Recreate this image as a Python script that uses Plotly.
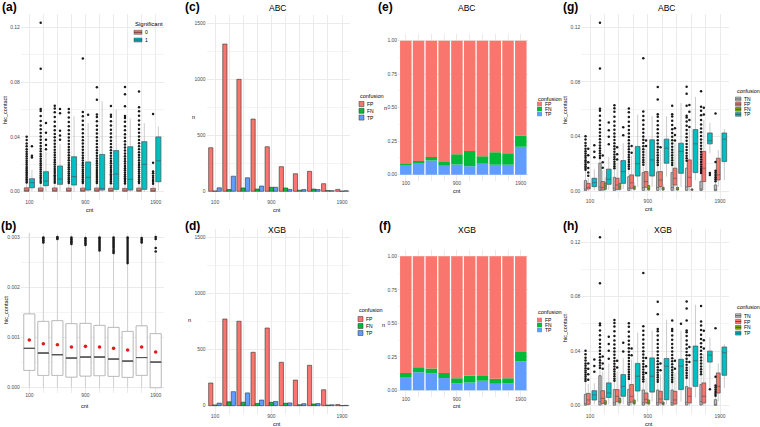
import plotly.graph_objects as go

W, H = 760, 427
FONT = "Liberation Sans, Arial, sans-serif"

# ============================================
# DATA
# ============================================
cnt = ["100", "300", "500", "700", "900", "1100", "1300", "1500", "1700", "1900"]
cnt_ticks = ["100", "", "", "", "900", "", "", "", "", "1900"]

# (a) hic_contact by Significant
sig0_q1 = [0.0003, 0.0003, 0.0003, 0.0003, 0.0003, 0.0003, 0.0003, 0.0003, 0.0003, 0.0002]
sig0_med = [0.0009, 0.0008, 0.0008, 0.0007, 0.0007, 0.0007, 0.0007, 0.0006, 0.0007, 0.0006]
sig0_q3 = [0.0028, 0.0027, 0.0027, 0.0026, 0.0026, 0.0026, 0.0025, 0.0024, 0.0026, 0.0024]
sig0_lo = [0.0, 0.0, 0.0, 0.0, 0.0, 0.0, 0.0, 0.0, 0.0, 0.0]
sig0_hi = [0.0065, 0.0062, 0.0062, 0.0060, 0.0060, 0.0059, 0.0058, 0.0055, 0.0060, 0.0055]
sig0_out = [
    [0.0068, 0.0079, 0.0091, 0.0103, 0.0117, 0.0129, 0.0142, 0.0155, 0.0168, 0.0181, 0.0196,
     0.0212, 0.0226, 0.0243, 0.0258, 0.0275, 0.0292, 0.031, 0.0331, 0.0352, 0.0378, 0.0402],
    [0.0066, 0.0078, 0.0092, 0.0105, 0.0119, 0.0133, 0.0148, 0.0162, 0.0177, 0.0193, 0.0208,
     0.0224, 0.0241, 0.0258, 0.0276, 0.0295, 0.0314, 0.0334, 0.0356, 0.0379, 0.0403, 0.0428,
     0.0455, 0.0484, 0.0516, 0.0552, 0.0589, 0.0603, 0.0898, 0.1234],
    [0.0066, 0.0079, 0.0093, 0.0107, 0.0121, 0.0136, 0.0151, 0.0166, 0.0182, 0.0198, 0.0215,
     0.0232, 0.025, 0.0268, 0.0287, 0.0307, 0.0328, 0.035, 0.0373, 0.0397, 0.0422, 0.0449,
     0.0478, 0.051, 0.0545, 0.058, 0.0607, 0.0628],
    [0.0064, 0.0077, 0.009, 0.0104, 0.0118, 0.0133, 0.0148, 0.0163, 0.0179, 0.0195, 0.0212,
     0.0229, 0.0247, 0.0266, 0.0286, 0.0306, 0.0327, 0.0349, 0.0372, 0.0396, 0.0421, 0.0448,
     0.0477, 0.0508, 0.0542, 0.0578, 0.0604],
    [0.0064, 0.0076, 0.0089, 0.0103, 0.0117, 0.0131, 0.0146, 0.0161, 0.0177, 0.0193, 0.021,
     0.0228, 0.0246, 0.0265, 0.0285, 0.0306, 0.0328, 0.0351, 0.0375, 0.04, 0.0427, 0.0455,
     0.0486, 0.0518, 0.055, 0.0582, 0.0973],
    [0.0063, 0.0075, 0.0088, 0.0101, 0.0115, 0.0129, 0.0144, 0.0159, 0.0175, 0.0191, 0.0208,
     0.0225, 0.0243, 0.0262, 0.0282, 0.0303, 0.0325, 0.0348, 0.0372, 0.0397, 0.0424, 0.0452,
     0.0482, 0.0514, 0.0545, 0.0563, 0.0671, 0.0762],
    [0.0062, 0.0074, 0.0087, 0.01, 0.0114, 0.0128, 0.0143, 0.0158, 0.0174, 0.019, 0.0207,
     0.0225, 0.0243, 0.0262, 0.0282, 0.0303, 0.0325, 0.0348, 0.0372, 0.0398, 0.0425, 0.0453,
     0.0483, 0.0515, 0.0547, 0.0562, 0.0625],
    [0.006, 0.0072, 0.0085, 0.0098, 0.0112, 0.0126, 0.0141, 0.0156, 0.0172, 0.0188, 0.0205,
     0.0222, 0.024, 0.0259, 0.0279, 0.03, 0.0322, 0.0345, 0.0369, 0.0394, 0.042, 0.0448,
     0.0478, 0.051, 0.0538, 0.0552, 0.0624, 0.0712, 0.0764],
    [0.0063, 0.0076, 0.0089, 0.0103, 0.0117, 0.0132, 0.0147, 0.0162, 0.0178, 0.0195, 0.0212,
     0.023, 0.0249, 0.0268, 0.0288, 0.0309, 0.0331, 0.0354, 0.0378, 0.0403, 0.043, 0.0458,
     0.0488, 0.052, 0.0555, 0.0588, 0.0617, 0.0731],
    [0.0058, 0.0072, 0.0086, 0.0101, 0.0117, 0.0134, 0.0148, 0.0212, 0.0568],
]
sig1_q1 = [0.0029, 0.0044, 0.0054, 0.0049, 0.0012, 0.0012, 0.0017, 0.0012, 0.0017, 0.0073]
sig1_med = [0.0066, 0.0078, 0.0092, 0.0110, 0.0105, 0.0024, 0.0129, 0.0090, 0.0200, 0.0226]
sig1_q3 = [0.0095, 0.0146, 0.0187, 0.0255, 0.0217, 0.0272, 0.0300, 0.0328, 0.0365, 0.0400]
sig1_lo = [0.0005, 0.0004, 0.0006, 0.0, 0.0, 0.0, 0.0, 0.0, 0.0, 0.0010]
sig1_hi = [0.0160, 0.0290, 0.0350, 0.0550, 0.0500, 0.0660, 0.0600, 0.0535, 0.0500, 0.0474]
sig1_out = [[0.025, 0.0262, 0.0331], [0.031, 0.034, 0.038, 0.043, 0.0502],
            [0.038, 0.041, 0.0445, 0.0572, 0.0603], [], [0.0562], [], [], [], [], []]

# (b) hic_contact, all pairs
b_q1 = [0.000345, 0.000245, 0.000245, 0.000212, 0.000232, 0.00024, 0.000226, 0.000206, 0.000245, 0.0]
b_med = [0.000783, 0.00069, 0.000657, 0.00059, 0.00061, 0.00061, 0.00057, 0.00053, 0.0006, 0.00051]
b_q3 = [0.001467, 0.00132, 0.001334, 0.001274, 0.00128, 0.00124, 0.0012, 0.00112, 0.00123, 0.001075]
b_lo = [0.0, 0.0, 0.0, 0.0, 0.0, 0.0, 0.0, 0.0, 0.0, 0.0]
b_hi = [0.00315, 0.00288, 0.00295, 0.00285, 0.00283, 0.00272, 0.00267, 0.00247, 0.00288, 0.00266]
b_mean = [0.000949, 0.000876, 0.000856, 0.00081, 0.000823, 0.00081, 0.000783, 0.00075, 0.00081, 0.00071]
b_out = [
    [],
    [0.00289, 0.00292, 0.00294, 0.00297, 0.00299],
    [0.00296, 0.00298, 0.003],
    [0.00286, 0.00289, 0.00291, 0.00294, 0.00296, 0.00299],
    [0.00284, 0.00287, 0.0029, 0.00293, 0.00296, 0.00298],
    [0.00273, 0.00276, 0.00279, 0.00282, 0.00285, 0.00288, 0.00291, 0.00294, 0.00297, 0.00299],
    [0.00268, 0.00271, 0.00274, 0.00278, 0.00281, 0.00284, 0.00287, 0.0029, 0.00293, 0.00296, 0.00299],
    [0.00248, 0.00252, 0.00256, 0.0026, 0.00264, 0.00268, 0.00272, 0.00276, 0.0028, 0.00284,
     0.00288, 0.00292, 0.00296, 0.00299],
    [0.00289, 0.00292, 0.00295, 0.00298],
    [0.00271, 0.00278, 0.00296, 0.003],
]

# (c)/(e) ABC confusion counts, (d)/(f) XGB confusion counts
abc_fp = [389, 1315, 1000, 645, 398, 220, 157, 178, 68, 17]
abc_fn = [3, 15, 30, 20, 36, 30, 10, 20, 7, 2]
abc_tp = [31, 135, 121, 47, 36, 17, 15, 16, 6, 5]
xgb_fp = [202, 771, 751, 475, 691, 386, 228, 359, 142, 10]
xgb_fn = [7, 35, 31, 20, 30, 22, 9, 15, 6, 1]
xgb_tp = [23, 125, 114, 50, 38, 25, 18, 19, 8, 3]

# (g) ABC hic_contact by confusion
g_tn_q1 = [0.0004, 0.0005, 0.0004, 0.0004, 0.0005, 0.0005, 0.0005, 0.0005, 0.0004, 0.0003]
g_tn_med = [0.0015, 0.003, 0.002, 0.002, 0.0025, 0.0025, 0.0025, 0.003, 0.0015, 0.001]
g_tn_q3 = [0.0076, 0.0204, 0.010, 0.0105, 0.0135, 0.014, 0.0135, 0.0167, 0.007, 0.0044]
g_tn_lo = [0.0, 0.0, 0.0, 0.0, 0.0, 0.0, 0.0, 0.0, 0.0, 0.0]
g_tn_hi = [0.015, 0.024, 0.016, 0.016, 0.018, 0.019, 0.018, 0.021, 0.012, 0.007]
g_fp_q1 = [0.0015, 0.0007, 0.0012, 0.002, 0.0027, 0.0032, 0.0044, 0.0032, 0.0069, 0.0081]
g_fp_med = [0.0027, 0.0025, 0.0044, 0.006, 0.0069, 0.0081, 0.0093, 0.010, 0.0167, 0.0118]
g_fp_q3 = [0.0056, 0.0069, 0.0093, 0.0118, 0.0142, 0.0142, 0.0167, 0.0228, 0.029, 0.024]
g_fp_lo = [0.0, 0.0, 0.0, 0.0, 0.0, 0.0, 0.0, 0.0, 0.0007, 0.003]
g_fp_hi = [0.0095, 0.015, 0.021, 0.026, 0.031, 0.030, 0.035, 0.045, 0.052, 0.030]
g_fp_out = [[0.0112, 0.0135, 0.0168, 0.021, 0.0262, 0.031], [0.017, 0.021, 0.026], [0.023, 0.027, 0.032],
            [0.028, 0.033], [0.033, 0.037], [0.032], [0.037, 0.041, 0.046], [0.047, 0.052, 0.058, 0.063],
            [0.056, 0.061], []]
g_fn_q1 = [None, 0.0012, 0.0012, 0.0012, 0.0007, 0.0007, 0.0007, 0.0005, None, None]
g_fn_med = [None, 0.0035, 0.003, 0.0022, 0.0018, 0.0015, 0.0015, 0.001, None, None]
g_fn_q3 = [None, 0.006, 0.0056, 0.0037, 0.004, 0.0027, 0.0027, 0.0015, None, None]
g_fn_lo = [None, 0.0, 0.0, 0.0, 0.0, 0.0, 0.0, 0.0, None, None]
g_fn_hi = [None, 0.01, 0.01, 0.0065, 0.0075, 0.005, 0.005, 0.0025, None, None]
g_tp_q1 = [0.0032, 0.0049, 0.0056, 0.011, 0.011, 0.0204, 0.013, 0.0135, 0.0346, 0.0216]
g_tp_med = [0.0061, 0.0086, 0.0142, 0.020, 0.0228, 0.0314, 0.029, 0.0346, 0.0368, 0.038]
g_tp_q3 = [0.0093, 0.016, 0.0223, 0.0326, 0.0375, 0.038, 0.035, 0.045, 0.0425, 0.0425]
g_tp_lo = [0.0005, 0.0008, 0.0015, 0.003, 0.003, 0.0105, 0.003, 0.008, 0.0277, 0.008]
g_tp_hi = [0.016, 0.025, 0.035, 0.056, 0.055, 0.0547, 0.0645, 0.069, 0.050, 0.0454]
g_tp_out = [[0.0248, 0.0287, 0.0336], [0.0342, 0.0398, 0.0446, 0.0502], [0.0408, 0.0468],
            [], [], [], [], [], [0.0132, 0.0118], []]

# (h) XGB hic_contact by confusion
h_tn_q1 = [0.0004, 0.0005, 0.0004, 0.0004, 0.0004, 0.0004, 0.0004, 0.0005, 0.0005, 0.0003]
h_tn_med = [0.0015, 0.003, 0.0022, 0.0022, 0.0022, 0.0022, 0.0022, 0.0025, 0.003, 0.001]
h_tn_q3 = [0.0083, 0.022, 0.0118, 0.012, 0.0115, 0.0115, 0.0115, 0.014, 0.0155, 0.0044]
h_tn_lo = [0.0, 0.0, 0.0, 0.0, 0.0, 0.0, 0.0, 0.0, 0.0, 0.0]
h_tn_hi = [0.017, 0.026, 0.018, 0.018, 0.017, 0.017, 0.017, 0.02, 0.022, 0.007]
h_fp_q1 = [0.001, 0.0017, 0.003, 0.0025, 0.002, 0.002, 0.0012, 0.002, 0.002, 0.0093]
h_fp_med = [0.0042, 0.0054, 0.0069, 0.0069, 0.0047, 0.0049, 0.0042, 0.0069, 0.0069, 0.0142]
h_fp_q3 = [0.009, 0.011, 0.0118, 0.0155, 0.0093, 0.0105, 0.0105, 0.013, 0.0167, 0.024]
h_fp_lo = [0.0, 0.0, 0.0, 0.0, 0.0, 0.0, 0.0, 0.0, 0.0, 0.0032]
h_fp_hi = [0.016, 0.025, 0.025, 0.034, 0.02, 0.023, 0.024, 0.029, 0.038, 0.031]
h_fp_out = [[0.019, 0.023, 0.027, 0.031], [0.027, 0.031, 0.036], [0.028, 0.033], [0.037, 0.042],
            [0.024, 0.029, 0.035], [0.026, 0.031], [0.027, 0.033], [0.032, 0.037, 0.043],
            [0.042, 0.048, 0.055], []]
h_fn_q1 = [None, 0.001, 0.002, 0.0012, 0.0012, 0.0007, None, None, None, None]
h_fn_med = [None, 0.002, 0.0035, 0.0025, 0.0025, 0.0015, None, None, None, None]
h_fn_q3 = [None, 0.0037, 0.0056, 0.0042, 0.0042, 0.0027, None, None, None, None]
h_fn_lo = [None, 0.0, 0.0, 0.0, 0.0, 0.0, None, None, None, None]
h_fn_hi = [None, 0.0075, 0.01, 0.0085, 0.008, 0.005, None, None, None, None]
h_tp_q1 = [0.0042, 0.006, 0.0069, 0.0108, 0.010, 0.0044, 0.0118, 0.0142, 0.032, 0.0223]
h_tp_med = [0.0079, 0.0093, 0.0142, 0.0216, 0.0216, 0.029, 0.029, 0.033, 0.037, 0.0388]
h_tp_q3 = [0.011, 0.0167, 0.0228, 0.031, 0.035, 0.0346, 0.034, 0.0437, 0.040, 0.043]
h_tp_lo = [0.001, 0.001, 0.001, 0.003, 0.003, 0.001, 0.003, 0.006, 0.013, 0.013]
h_tp_hi = [0.0165, 0.031, 0.035, 0.0535, 0.055, 0.063, 0.055, 0.074, 0.050, 0.045]
h_tp_out = [[0.0248, 0.0291, 0.0338], [0.0345, 0.0402, 0.0452, 0.0505], [0.0398, 0.0462],
            [], [], [], [0.06], [], [0.012], []]

# ============================================
# STYLE
# ============================================
RED, TEAL, GREEN, BLUE, OLIVE, GREY = "#F8766D", "#00BFC4", "#00BA38", "#619CFF", "#7CAE00", "#BDBDBD"
EDGE, WHISK = "#4d4d4d", "#b5b5b5"
GRID, GRID_MINOR = "#ebebeb", "#f4f4f4"
TICK = "#4d4d4d"

idx = list(range(len(cnt)))


def px(x):
    return x / W


def py(y):
    return 1 - y / H


def dom_x(p_first, p_last, pad=0.6):
    s = (p_last - p_first) / (len(cnt) - 1)
    return [px(p_first - pad * s), px(p_last + pad * s)]


def dom_y(v0, p0, v1, p1, lo, hi):
    s = (p0 - p1) / (v1 - v0)
    top = p1 - (hi - v1) * s
    bot = p0 + (v0 - lo) * s
    return [py(bot), py(top)]


fig = go.Figure()


def add_box(ax, offset, width, q1, med, q3, lo, hi, fill, edge=EDGE, whisk=WHISK,
            outs=None, mid=None, pt=2.5):
    keep = [i for i in idx if q1[i] is not None]
    pos = [i + offset for i in keep]

    def pick(arr):
        return [arr[i] for i in keep]

    common = dict(x=pos, xaxis="x" + ax, yaxis="y" + ax, width=width, whiskerwidth=0,
                  boxpoints=False, orientation="v", showlegend=False, hoverinfo="skip")
    # whiskers
    fig.add_trace(go.Box(q1=pick(q1), median=pick(med), q3=pick(q3), lowerfence=pick(lo),
                         upperfence=pick(hi), fillcolor="rgba(0,0,0,0)",
                         line=dict(color=whisk, width=0.7), **common))
    # box body
    fig.add_trace(go.Box(q1=pick(q1), median=pick(med), q3=pick(q3), lowerfence=pick(q1),
                         upperfence=pick(q3), fillcolor=fill,
                         line=dict(color=edge, width=0.6), **common))
    if mid:
        fig.add_trace(go.Box(q1=pick(med), median=pick(med), q3=pick(med), lowerfence=pick(med),
                             upperfence=pick(med), fillcolor="rgba(0,0,0,0)",
                             line=dict(color=mid, width=0.9), **common))
    if outs:
        ox, oy = [], []
        for i in keep:
            for v in outs[i]:
                if v > hi[i] or v < lo[i]:
                    ox.append(i + offset)
                    oy.append(v)
        fig.add_trace(go.Scatter(x=ox, y=oy, mode="markers", xaxis="x" + ax, yaxis="y" + ax,
                                 marker=dict(size=pt, color="#1a1a1a", line=dict(width=0)),
                                 showlegend=False, hoverinfo="skip"))


# (a)
add_box("", -0.1875, 0.33, sig0_q1, sig0_med, sig0_q3, sig0_lo, sig0_hi, RED, outs=sig0_out)
add_box("", 0.1875, 0.36, sig1_q1, sig1_med, sig1_q3, sig1_lo, sig1_hi, TEAL, outs=sig1_out)

# (b)
add_box("2", 0, 0.78, b_q1, b_med, b_q3, b_lo, b_hi, "white", edge="#a0a0a0", whisk="#c4c4c4",
        outs=b_out, mid="#555555", pt=2.6)
fig.add_trace(go.Scatter(x=idx, y=b_mean, mode="markers", xaxis="x2", yaxis="y2",
                         marker=dict(size=3.6, color="#E41A1C"), showlegend=False, hoverinfo="skip"))

# (c), (d) grouped counts; (e), (f) filled proportions
for ax_c, ax_e, fp, fn, tp in [("3", "5", abc_fp, abc_fn, abc_tp), ("4", "6", xgb_fp, xgb_fn, xgb_tp)]:
    for vals, col in [(fp, RED), (fn, GREEN), (tp, BLUE)]:
        fig.add_trace(go.Bar(x=idx, y=vals, xaxis="x" + ax_c, yaxis="y" + ax_c,
                             marker=dict(color=col, line=dict(color="#333333", width=0.6)),
                             showlegend=False, hoverinfo="skip"))
    tot = [a + b + c for a, b, c in zip(fp, fn, tp)]
    tp_s = [t / s for t, s in zip(tp, tot)]
    fn_s = [f / s for f, s in zip(fn, tot)]
    fp_s = [f / s for f, s in zip(fp, tot)]
    base = [0.0] * len(cnt)
    for vals, col in [(tp_s, BLUE), (fn_s, GREEN), (fp_s, RED)]:
        fig.add_trace(go.Bar(x=idx, y=vals, base=base, offsetgroup="fill" + ax_e,
                             xaxis="x" + ax_e, yaxis="y" + ax_e,
                             marker=dict(color=col, line=dict(width=0)),
                             showlegend=False, hoverinfo="skip"))
        base = [b + v for b, v in zip(base, vals)]

# (g), (h): TN, FP, FN, TP boxes dodged within each cnt group
offs4 = [-0.31, -0.12, 0.06, 0.3]
wid4 = [0.16, 0.26, 0.14, 0.32]
for ax, tn, fp, fn, tp, fpo, tpo in [
    ("7", (g_tn_q1, g_tn_med, g_tn_q3, g_tn_lo, g_tn_hi), (g_fp_q1, g_fp_med, g_fp_q3, g_fp_lo, g_fp_hi),
     (g_fn_q1, g_fn_med, g_fn_q3, g_fn_lo, g_fn_hi), (g_tp_q1, g_tp_med, g_tp_q3, g_tp_lo, g_tp_hi),
     g_fp_out, g_tp_out),
    ("8", (h_tn_q1, h_tn_med, h_tn_q3, h_tn_lo, h_tn_hi), (h_fp_q1, h_fp_med, h_fp_q3, h_fp_lo, h_fp_hi),
     (h_fn_q1, h_fn_med, h_fn_q3, h_fn_lo, h_fn_hi), (h_tp_q1, h_tp_med, h_tp_q3, h_tp_lo, h_tp_hi),
     h_fp_out, h_tp_out),
]:
    add_box(ax, offs4[0], wid4[0], *tn, GREY, outs=sig0_out)
    add_box(ax, offs4[1], wid4[1], *fp, RED, outs=fpo)
    add_box(ax, offs4[2], wid4[2], *fn, OLIVE)
    add_box(ax, offs4[3], wid4[3], *tp, TEAL, outs=tpo)

# ============================================
# AXES
# ============================================
panels = {
    "": ((29.3, 155.7), (0, 191.7, 0.12, 27.3), [-0.0062, 0.1296], 0.04, ".2f"),
    "2": ((29.3, 155.7), (0, 387.7, 0.003, 237), [-0.00011, 0.00308], 0.001, ".3f"),
    "3": ((215, 342), (0, 191.3, 1500, 23.3), [-75, 1575], 500, "d"),
    "4": ((215, 342), (0, 405.7, 1500, 237), [-75, 1575], 500, "d"),
    "5": ((405.8, 520.8), (0, 174.7, 1, 40.7), [-0.05, 1.05], 0.25, ".2f"),
    "6": ((405.8, 520.8), (0, 390.3, 1, 256.3), [-0.05, 1.05], 0.25, ".2f"),
    "7": ((590, 720), (0, 191, 0.12, 27.3), [-0.0062, 0.1296], 0.04, ".2f"),
    "8": ((590, 720), (0, 405.7, 0.12, 242), [-0.0062, 0.1296], 0.04, ".2f"),
}
axes = {}
for ax, (xp, yp, yr, dt, fmt) in panels.items():
    tickfont = dict(family=FONT, size=5, color=TICK)
    axes["xaxis" + ax] = dict(domain=dom_x(*xp), anchor="y" + ax, range=[-0.6, 9.6],
                              tickmode="array", tickvals=idx, ticktext=cnt_ticks,
                              showgrid=True, gridcolor=GRID, gridwidth=0.6, zeroline=False,
                              showline=False, ticks="", tickfont=tickfont, fixedrange=True,
                              ticklabelstandoff=-2)
    axes["yaxis" + ax] = dict(domain=dom_y(*yp, *yr), anchor="x" + ax, range=yr,
                              tick0=0, dtick=dt, tickformat=fmt,
                              showgrid=True, gridcolor=GRID, gridwidth=0.6,
                              minor=dict(tick0=0, dtick=dt / 2, showgrid=True,
                                         gridcolor=GRID_MINOR, gridwidth=0.4),
                              zeroline=False, showline=False, ticks="", tickfont=tickfont,
                              fixedrange=True)

# ============================================
# TEXT AND LEGENDS
# ============================================
ann, shapes = [], []


def note(x, y, text, size, color="black", xanchor="center", **kw):
    ann.append(dict(x=px(x), y=py(y), xref="paper", yref="paper", text=text, showarrow=False,
                    xanchor=xanchor, yanchor="middle", borderpad=0,
                    font=dict(family=FONT, size=size, color=color), **kw))


for lab, x, y in [("(a)", 9, 7), ("(b)", 8, 226), ("(c)", 192, 7), ("(d)", 192, 226),
                  ("(e)", 385, 7), ("(f)", 385, 226), ("(g)", 570, 7), ("(h)", 570, 226)]:
    note(x, y, "<b>" + lab + "</b>", 12)

for lab, x, y in [("ABC", 277, 7.5), ("XGB", 277, 230), ("ABC", 466.7, 8.3), ("XGB", 466.7, 230.3),
                  ("ABC", 666.7, 8.3), ("XGB", 663, 230.3)]:
    note(x, y, lab, 8.5)

for x, y in [(90, 210), (85, 405.7), (277, 210), (277, 424), (456.7, 191), (457, 405.7),
             (649, 209.3), (649, 423.7)]:
    note(x, y, "cnt", 5.5)
for x, y in [(5, 110), (6, 310), (565, 110), (565, 328)]:
    note(x, y, "hic_contact", 5.5, textangle=-90)
for x, y in [(193, 117), (189, 320), (385, 108), (383.5, 325)]:
    note(x, y, "n", 5.5)


def legend(x0, ty, title, items, first, step, kw, kh, outline=None, boxkey=False, tsize=5.5):
    note(x0, ty, title, tsize, xanchor="left")
    for k, (lab, col) in enumerate(items):
        cy = first + k * step
        shapes.append(dict(type="rect", xref="paper", yref="paper", x0=px(x0), x1=px(x0 + kw),
                           y0=py(cy + kh / 2), y1=py(cy - kh / 2), fillcolor=col,
                           line=dict(color=outline or col, width=0.5 if outline else 0)))
        if boxkey:
            shapes.append(dict(type="line", xref="paper", yref="paper", x0=px(x0), x1=px(x0 + kw),
                               y0=py(cy), y1=py(cy), line=dict(color="#333333", width=0.7)))
        note(x0 + kw + 2, cy, lab, 5, xanchor="left")


legend(134, 24, "Significant", [("0", RED), ("1", TEAL)], 32.3, 7.7, 8, 4, outline=EDGE,
       boxkey=True, tsize=6)
conf3 = [("FP", RED), ("FN", GREEN), ("TP", BLUE)]
legend(359, 96, "confusion", conf3, 104, 6.8, 5, 5, outline="#333333")
legend(358, 310, "confusion", conf3, 319, 7, 5, 5, outline="#333333")
legend(537, 99, "confusion", conf3, 104, 5, 5, 4.5)
legend(537, 312, "confusion", conf3, 320, 5, 5, 4.5)
conf4 = [("TN", GREY), ("FP", RED), ("FN", OLIVE), ("TP", TEAL)]
legend(735.5, 90.7, "confusion", conf4, 99, 5.1, 5.5, 4, outline=EDGE, boxkey=True, tsize=5.3)
legend(735.5, 307, "confusion", conf4, 315.7, 5.8, 5.5, 4, outline=EDGE, boxkey=True, tsize=5.3)

fig.update_layout(width=W, height=H, margin=dict(l=0, r=0, t=0, b=0),
                  paper_bgcolor="white", plot_bgcolor="white",
                  barmode="group", bargap=0.1, bargroupgap=0, showlegend=False,
                  font=dict(family=FONT, size=5, color=TICK),
                  annotations=ann, shapes=shapes, **axes)

# the page body has a default 8px margin; drop it so the figure sits at the window corner
fig.write_html("out.html", config={"displayModeBar": False},
               post_script="document.body.style.margin='0';")
